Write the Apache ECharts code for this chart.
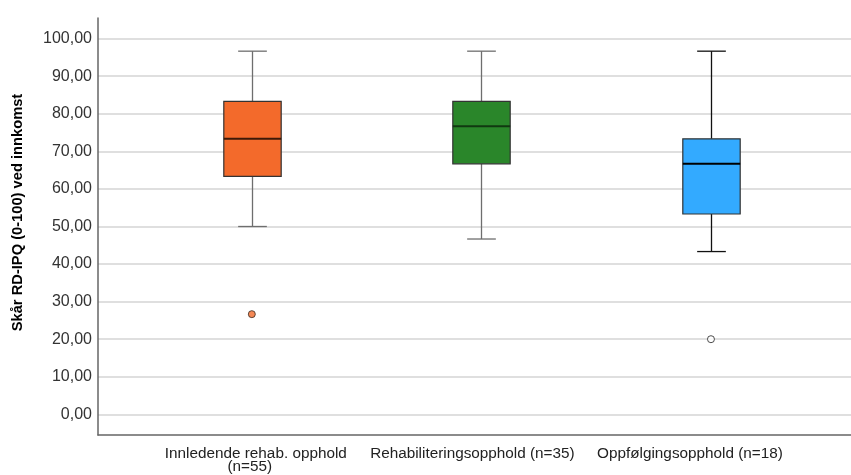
<!DOCTYPE html>
<html>
<head>
<meta charset="utf-8">
<script src="https://cdn.jsdelivr.net/npm/echarts@6/dist/echarts.min.js"></script>
<style>
  html, body { margin: 0; padding: 0; background: #fff; }
  #chart { width: 851px; height: 475px; }
</style>
</head>
<body>
<div id="chart"></div>
<script>
// Groups shown along the x axis
const categories = [
  'Innledende rehab. opphold\n(n=55)',
  'Rehabiliteringsopphold (n=35)',
  'Oppfølgingsopphold (n=18)'
];

// Five-number summaries per group
const whiskerLow  = [50.00, 46.67, 43.33];
const quartile1   = [63.33, 66.67, 53.33];
const medians     = [73.33, 76.67, 66.67];
const quartile3   = [83.33, 83.33, 73.33];
const whiskerHigh = [96.67, 96.67, 96.67];

// Outliers: [group index, value]
const outlierGroup  = [0, 2];
const outlierValues = [26.67, 20.00];

// Y axis tick values
const yTicks = [0, 10, 20, 30, 40, 50, 60, 70, 80, 90, 100];

// Styling per group
const boxColors     = ['#F36A2B', '#2A862A', '#33AAFF'];
const medianColors  = ['#3d1a08', '#113811', '#000000'];
const whiskerColors = ['#6e6e6e', '#6e6e6e', '#111111'];
const outlierFill   = ['#F36A2B', '#ffffff'];
// Horizontal nudge of each category label line (px, positive = right)
const labelShift    = [[4, -2], [-9], [-21]];

const FONT = "'Liberation Sans', Arial, sans-serif";

const boxData = categories.map((c, i) => [
  i + 1, whiskerLow[i], quartile1[i], medians[i], quartile3[i], whiskerHigh[i]
]);

const outlierData = outlierGroup.map((g, k) => ({
  value: [g + 1, outlierValues[k]],
  itemStyle: {
    color: outlierFill[k],
    borderColor: k === 0 ? '#3a2a20' : '#222',
    borderWidth: 1
  }
}));

const fmt = v => v.toFixed(2).replace('.', ',');

// Rich-text styles that nudge each category label line sideways
const labelRich = {};
labelShift.forEach((lines, i) => {
  lines.forEach((s, j) => {
    labelRich['c' + i + '_' + j] = {
      fontFamily: FONT,
      fontSize: 15.3,
      color: '#222',
      lineHeight: 13,
      padding: s >= 0 ? [0, 0, 0, 2 * s] : [0, -2 * s, 0, 0]
    };
  });
});

function categoryLabel(v) {
  const i = Math.round(v) - 1;
  if (i < 0 || i >= categories.length) return '';
  return categories[i].split('\n').map((t, j) => '{c' + i + '_' + j + '|' + t + '}').join('\n');
}

function renderBox(params, api) {
  const i = params.dataIndex;
  const x = api.value(0);
  const pLow = api.coord([x, api.value(1)]);
  const pQ1 = api.coord([x, api.value(2)]);
  const pMed = api.coord([x, api.value(3)]);
  const pQ3 = api.coord([x, api.value(4)]);
  const pHigh = api.coord([x, api.value(5)]);
  const bw = api.size([0.25, 0])[0];
  const cw = api.size([0.125, 0])[0];
  const cx = Math.round(pMed[0]) + 0.5;
  const wStyle = { stroke: whiskerColors[i], lineWidth: 1.3 };
  return {
    type: 'group',
    children: [
      { type: 'line', shape: { x1: cx, y1: pHigh[1], x2: cx, y2: pQ3[1] }, style: wStyle },
      { type: 'line', shape: { x1: cx, y1: pQ1[1], x2: cx, y2: pLow[1] }, style: wStyle },
      { type: 'line', shape: { x1: cx - cw / 2, y1: pHigh[1], x2: cx + cw / 2, y2: pHigh[1] }, style: wStyle },
      { type: 'line', shape: { x1: cx - cw / 2, y1: pLow[1], x2: cx + cw / 2, y2: pLow[1] }, style: wStyle },
      {
        type: 'rect',
        shape: { x: cx - bw / 2, y: pQ3[1], width: bw, height: pQ1[1] - pQ3[1] },
        style: { fill: boxColors[i], stroke: '#333333', lineWidth: 1.2 }
      },
      {
        type: 'line',
        shape: { x1: cx - bw / 2, y1: pMed[1], x2: cx + bw / 2, y2: pMed[1] },
        style: { stroke: medianColors[i], lineWidth: 2 }
      }
    ]
  };
}

const chart = echarts.init(document.getElementById('chart'), null, { renderer: 'canvas' });

chart.setOption({
  animation: false,
  backgroundColor: '#ffffff',
  grid: { left: 98, right: 0, top: 18, bottom: 40, containLabel: false },
  xAxis: {
    type: 'value',
    min: 0.33,
    max: 3.61,
    axisLine: { show: true, onZero: false, lineStyle: { color: '#666', width: 1.5 } },
    axisTick: { show: false, customValues: [1, 2, 3] },
    splitLine: { show: false },
    axisLabel: {
      customValues: [1, 2, 3],
      formatter: categoryLabel,
      rich: labelRich,
      color: '#222',
      fontFamily: FONT,
      fontSize: 15.3,
      lineHeight: 13,
      margin: 12,
      align: 'center'
    }
  },
  yAxis: {
    type: 'value',
    min: -5.5,
    max: 105.5,
    name: 'Skår RD-IPQ (0-100) ved innkomst',
    nameLocation: 'middle',
    nameGap: 73,
    nameTextStyle: {
      color: '#000', fontFamily: FONT, fontSize: 14.7, fontWeight: 'bold',
      padding: [0, 0, 0, 28]
    },
    axisLine: { show: true, lineStyle: { color: '#666', width: 1.5 } },
    axisTick: { show: false, customValues: yTicks },
    splitLine: { show: true, lineStyle: { color: '#d4d4d4', width: 1.5 } },
    axisLabel: {
      customValues: yTicks,
      formatter: fmt,
      color: '#333',
      fontFamily: FONT,
      fontSize: 16,
      margin: 6
    }
  },
  series: [
    {
      type: 'custom',
      renderItem: renderBox,
      data: boxData,
      encode: { x: 0, y: [1, 2, 3, 4, 5] },
      z: 3
    },
    {
      type: 'scatter',
      data: outlierData,
      symbol: 'circle',
      symbolSize: 7,
      z: 4
    }
  ]
});
</script>
</body>
</html>
